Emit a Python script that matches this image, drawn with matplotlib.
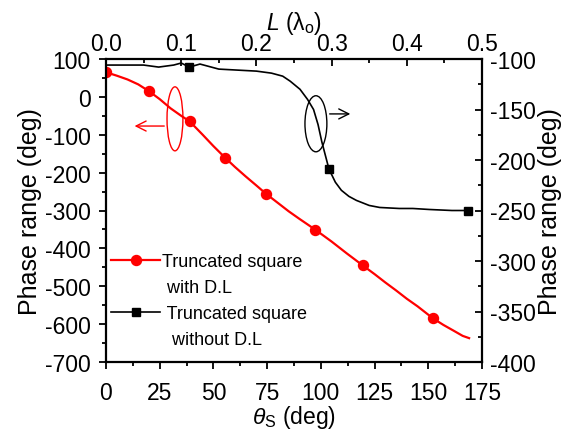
import matplotlib
matplotlib.use("Agg")
import matplotlib.pyplot as plt
from matplotlib.patches import Ellipse
from matplotlib.lines import Line2D
from matplotlib.ticker import MultipleLocator

plt.rcParams['font.family'] = ['Liberation Sans', 'DejaVu Sans']
plt.rcParams['mathtext.fontset'] = 'custom'
plt.rcParams['mathtext.rm'] = 'Liberation Sans'
plt.rcParams['mathtext.it'] = 'Liberation Sans:italic'
plt.rcParams['axes.unicode_minus'] = False

# red: truncated square with D.L  (bottom theta_s axis, left y axis)
theta_s = [0, 5, 10, 15, 20, 25, 30, 35, 39, 45, 50, 55.5, 60, 65, 70, 74.5,
           80, 85, 90, 97.5, 105, 112, 119.5, 125, 130, 135, 140, 145, 152,
           157, 162, 166, 169]
phase_dl = [65, 56, 46, 33, 15, -6, -30, -50, -65, -100, -130, -161, -185,
            -210, -234, -256, -280, -302, -322, -351, -382, -413, -445, -468,
            -490, -511, -533, -553, -584, -602, -618, -631, -637]
red_marks = [0, 4, 8, 11, 15, 19, 22, 28]

# black: truncated square without D.L  (top L axis, right y axis)
L_lam = [0, 0.03, 0.05, 0.07, 0.09, 0.1, 0.1108, 0.125, 0.135, 0.15, 0.2,
         0.22, 0.235, 0.245, 0.258, 0.268, 0.276, 0.282, 0.287, 0.2965,
         0.305, 0.313, 0.323, 0.333, 0.35, 0.364, 0.39, 0.408, 0.43, 0.46,
         0.482]
phase_nodl = [-106, -106, -106, -108, -106, -104, -108, -105, -107, -110,
              -112, -114, -117, -122, -130, -140, -150, -165, -182, -209,
              -222, -230, -236, -240, -245, -247, -248, -248, -249, -250,
              -250]
black_marks = [6, 19, 30]

fig = plt.figure(figsize=(5.73, 4.35), dpi=100)
rect = [106/573, 1-363/435, 376/573, 303/435]
ax = fig.add_axes(rect)
ax2 = fig.add_axes(rect, frameon=False)

ax.plot(theta_s, phase_dl, color='red', lw=1.6, marker='o', ms=7.2,
        markevery=red_marks)
ax.set_xlim(0, 175)
ax.set_ylim(-700, 100)
ax.xaxis.set_major_locator(MultipleLocator(25))
ax.xaxis.set_minor_locator(MultipleLocator(12.5))
ax.yaxis.set_major_locator(MultipleLocator(100))
ax.yaxis.set_minor_locator(MultipleLocator(50))
ax.tick_params(which='both', direction='out', labelsize=16.5, width=1.3)
ax.tick_params(which='major', length=5)
ax.tick_params(which='minor', length=3)
ax.tick_params(axis='x', pad=9)
ax.tick_params(axis='y', pad=6)
for s in ax.spines.values():
    s.set_linewidth(1.6)
ax.set_xlabel(r'$\theta_{\mathrm{S}}$ (deg)', fontsize=16.5, labelpad=-1)
ax.set_ylabel('Phase range (deg)', fontsize=18, labelpad=2)

ax2.plot(L_lam, phase_nodl, color='black', lw=1.2, marker='s', ms=6,
         markevery=black_marks)
ax2.set_xlim(0, 0.5)
ax2.set_ylim(-400, -100)
ax2.xaxis.tick_top()
ax2.yaxis.tick_right()
ax2.xaxis.set_label_position('top')
ax2.yaxis.set_label_position('right')
ax2.xaxis.set_major_locator(MultipleLocator(0.1))
ax2.xaxis.set_minor_locator(MultipleLocator(0.05))
ax2.yaxis.set_major_locator(MultipleLocator(50))
ax2.yaxis.set_minor_locator(MultipleLocator(25))
ax2.tick_params(which='both', direction='in', labelsize=16.5, width=1.3)
ax2.tick_params(which='major', length=5)
ax2.tick_params(which='minor', length=3)
ax2.tick_params(axis='x', pad=3)
ax2.tick_params(axis='y', pad=6)
ax2.set_xlabel(r'$L$ ($\mathrm{\lambda}_{\mathrm{o}}$)', fontsize=16.5,
               labelpad=2)
ax2.set_ylabel('Phase range (deg)', fontsize=18, labelpad=1)

# ellipse + arrow annotations
ax.add_patch(Ellipse((32.1, -58), 7.4, 169, fill=False, ec='red', lw=1))
ax.annotate('', xy=(12, -77), xytext=(28.4, -77),
            arrowprops=dict(arrowstyle='->', color='red', lw=1,
                            mutation_scale=18))
ax.add_patch(Ellipse((97.7, -71), 10.2, 148, fill=False, ec='black', lw=1))
ax.annotate('', xy=(115, -45), xytext=(102.8, -45),
            arrowprops=dict(arrowstyle='->', color='black', lw=1,
                            mutation_scale=18))

blank = Line2D([], [], ls='none')
handles = [Line2D([], [], color='red', lw=1.6, marker='o', ms=7.2), blank,
           Line2D([], [], color='black', lw=1.2, marker='s', ms=6), blank]
labels = ['Truncated square', ' with D.L', ' Truncated square',
          '  without D.L']
leg = ax.legend(handles, labels, loc='upper left', frameon=False,
                bbox_to_anchor=(104/573, 1-247/435),
                bbox_transform=fig.transFigure, fontsize=13,
                handlelength=2.7, handletextpad=0.1, labelspacing=0.5,
                borderaxespad=0)

fig.savefig('out.png', dpi=100)
